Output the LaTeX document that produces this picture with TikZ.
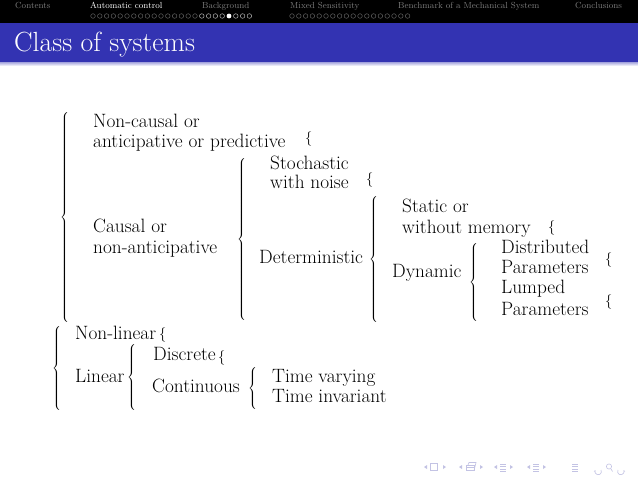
\documentclass[tikz,border=0pt]{standalone}
\usetikzlibrary{arrows.meta}
\definecolor{bblue}{RGB}{51,51,178}
\definecolor{secgray}{RGB}{125,125,125}
\definecolor{dotdim}{RGB}{95,95,95}
\definecolor{dotcur}{RGB}{175,175,175}
\definecolor{navc}{RGB}{195,195,228}
\delimitershortfall=0pt
\delimiterfactor=1000
\newcommand{\bigbrc}[1]{$\left\{\vcenter{\hrule height #1pt width 0pt}\right.$}
\begin{document}
\begin{tikzpicture}[x=1pt,y=-1pt,
  txt/.style={anchor=base west,inner sep=0pt,font=\fontsize{19.3}{23}\selectfont},
  brc/.style={anchor=west,inner sep=0pt,font=\fontsize{19.3}{23}\selectfont},
  sbr/.style={anchor=west,inner sep=0pt,font=\fontsize{14}{14}\selectfont},
  sec/.style={anchor=base west,inner sep=0pt,font=\fontsize{8.8}{9}\selectfont,text=secgray},
  navline/.style={draw=navc,line width=0.6pt}]
\useasboundingbox (0,0) rectangle (638,479);
\fill[white] (0,0) rectangle (638,479);
% headline
\fill[black] (0,0) rectangle (638,23);
\node[sec] (s1) at (15,9) {Contents};
\node[sec,text=white] (s2) at (90,9) {Automatic control};
\node[sec] (s3) at (202,9) {Background};
\node[sec] (s4) at (290,9) {Mixed Sensitivity};
\node[sec] (s5) at (398,9) {Benchmark of a Mechanical System};
\node[sec] (s6) at (575,9) {Conclusions};
\foreach \i in {0,...,23}{
  \pgfmathsetmacro\xx{93+6.8*\i}
  \ifnum\i=20 \fill[white] (\xx,16) circle (2.4);
  \else\ifnum\i>15 \draw[dotcur,line width=0.5pt] (\xx,16) circle (2.3);
  \else \draw[dotdim,line width=0.5pt] (\xx,16) circle (2.3);\fi\fi
}
\foreach \i in {0,...,17}{
  \pgfmathsetmacro\xx{292+6.8*\i}
  \draw[dotdim,line width=0.5pt] (\xx,16) circle (2.3);
}
% frame title
\fill[bblue] (0,23) rectangle (638,62);
\shade[top color=bblue!45,bottom color=white] (0,62) rectangle (638,66);
\node[anchor=base west,inner sep=0pt,text=white,font=\fontsize{27.7}{32}\selectfont] (title) at (14,52) {Class of systems};
% top group
\node[brc] (b1) at (60,217) {\bigbrc{208}};
\node[txt] (t1) at (93,127) {Non-causal or};
\node[txt] (t2) at (93,147) {anticipative or predictive};
\node[sbr] (e1) at (305,139) {$\{$};
\node[txt] (t3) at (93,232) {Causal or};
\node[txt] (t4) at (93,253) {non-anticipative};
\node[brc] (b2) at (237,239) {\bigbrc{160}};
\node[txt] (t5) at (270,169) {Stochastic};
\node[txt] (t6) at (270,188) {with noise};
\node[sbr] (e2) at (366,180) {$\{$};
\node[txt] (t7) at (259,263) {Deterministic};
\node[brc] (b3) at (369,259) {\bigbrc{124}};
\node[txt] (t8) at (402,212) {Static or};
\node[txt] (t9) at (402,233) {without memory};
\node[sbr] (e3) at (548,228) {$\{$};
\node[txt] (t10) at (392,277) {Dynamic};
\node[brc] (b4) at (469,282) {\bigbrc{76}};
\node[txt] (t11) at (501,253) {Distributed};
\node[txt] (t12) at (501,273) {Parameters};
\node[txt] (t13) at (501,293) {Lumped};
\node[txt] (t14) at (501,315) {Parameters};
\node[sbr] (e4) at (605,260) {$\{$};
\node[sbr] (e5) at (605,302) {$\{$};
% bottom group
\node[brc] (b5) at (52,368) {\bigbrc{84}};
\node[txt] (u1) at (75,339) {Non-linear};
\node[sbr] (e6) at (159,335) {$\{$};
\node[txt] (u2) at (75,382) {Linear};
\node[brc] (b6) at (127,377) {\bigbrc{62}};
\node[txt] (u3) at (153,360) {Discrete};
\node[sbr] (e7) at (218,358) {$\{$};
\node[txt] (u4) at (152,392) {Continuous};
\node[brc] (b7) at (248,388) {\bigbrc{40}};
\node[txt] (u5) at (272,382) {Time varying};
\node[txt] (u6) at (272,402) {Time invariant};
% navigation symbols
\begin{scope}[navc]
\fill (424,467) -- (427,465) -- (427,469) -- cycle;
\draw[navline] (430.5,463.5) rectangle (437.5,470);
\fill (446,467) -- (443,465) -- (443,469) -- cycle;
\fill (459,467) -- (462,465) -- (462,469) -- cycle;
\draw[navline] (466,465) rectangle (474,470.5);
\draw[navline] (468,465) -- (469,462.5) -- (476,462.5) -- (474,470.5);
\draw[navline] (466,467.5) -- (474,467.5);
\fill (483,467) -- (480,465) -- (480,469) -- cycle;
\fill (494,467) -- (497,465) -- (497,469) -- cycle;
\foreach \yy in {464,466.5,469} \draw[navline] (500,\yy) -- (505.5,\yy);
\draw[navline] (500,471) -- (505.5,471);
\fill (513,467) -- (510,465) -- (510,469) -- cycle;
\fill (527,467) -- (530,465) -- (530,469) -- cycle;
\foreach \yy in {464,466.5,469} \draw[navline] (533,\yy) -- (538.5,\yy);
\draw[navline] (533,471) -- (538.5,471);
\fill (546,467) -- (543,465) -- (543,469) -- cycle;
\foreach \yy in {464,466.5,469,471} \draw[navline] (572,\yy) -- (577.5,\yy);
\draw[navline,-{Stealth[length=2pt]}] (601,470) arc (-30:210:3.2);
\draw[navline] (609,466.5) circle (2.6);
\draw[navline] (611,469) -- (612.5,471.5);
\draw[navline,-{Stealth[length=2pt]}] (618,470) arc (210:-30:3.2);
\end{scope}
\end{tikzpicture}
\end{document}
